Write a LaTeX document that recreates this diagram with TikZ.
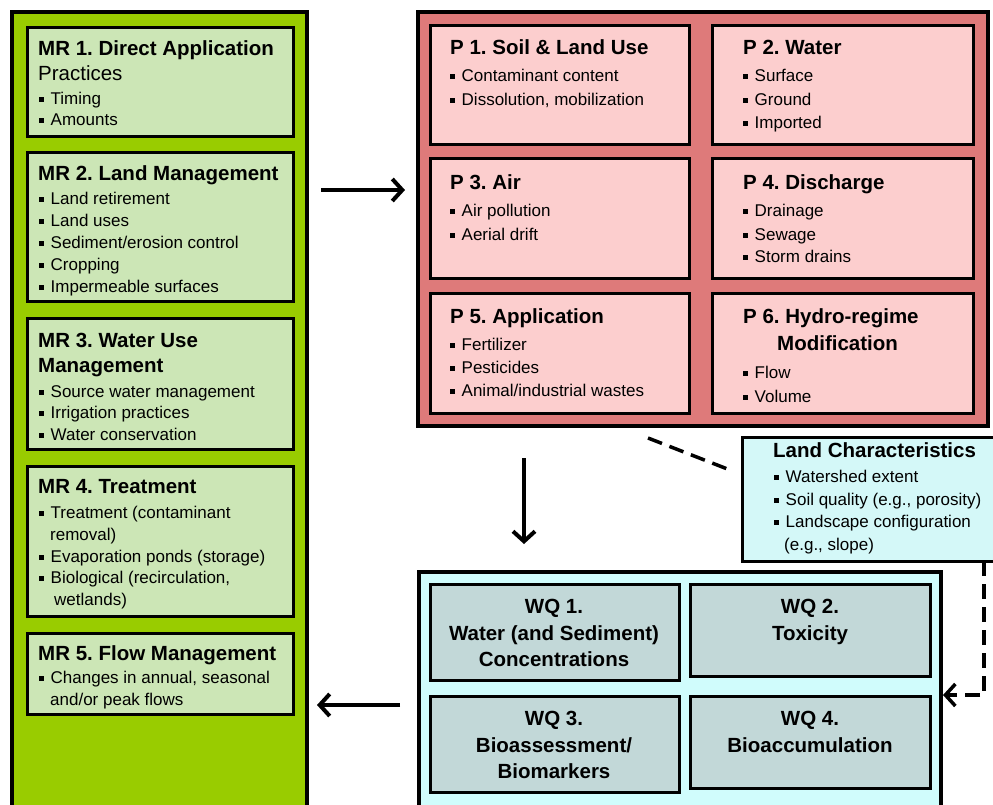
\documentclass[tikz,border=0pt]{standalone}
\usepackage{fontspec}
\setmainfont{Liberation Sans}
\usetikzlibrary{arrows.meta,fit,calc}
\frenchspacing

\definecolor{mrouter}{RGB}{153,204,0}
\definecolor{mrinner}{RGB}{204,230,182}
\definecolor{pouter}{RGB}{222,122,122}
\definecolor{pinner}{RGB}{252,206,206}
\definecolor{wqouter}{RGB}{208,252,252}
\definecolor{wqinner}{RGB}{194,216,216}
\definecolor{lcfill}{RGB}{212,248,248}

% small square bullet
\newcommand\sq{\rule[2.3pt]{4.5pt}{4.5pt}\hspace{7pt}}
% text lines placed on their baselines
\newcounter{lc}
\newcommand\Ttl[2]{\stepcounter{lc}\node[ttl] (ln\arabic{lc}) at (#1) {#2};}
\newcommand\Itm[2]{\stepcounter{lc}\node[itm] (ln\arabic{lc}) at (#1) {\sq#2};}
\newcommand\Cnt[2]{\stepcounter{lc}\node[itm] (ln\arabic{lc}) at (#1) {#2};}
\newcommand\Ctr[2]{\stepcounter{lc}\node[ctr] (ln\arabic{lc}) at (#1) {#2};}

\tikzset{
  panel/.style={draw=black, line width=4pt, inner sep=0pt, outer sep=0pt},
  card/.style={draw=black, line width=3pt, inner sep=0pt, outer sep=0pt},
  ttl/.style={anchor=base west, inner sep=0pt, font=\bfseries\fontsize{20.5}{24}\selectfont},
  ttlreg/.style={anchor=base west, inner sep=0pt, font=\fontsize{20.5}{24}\selectfont},
  itm/.style={anchor=base west, inner sep=0pt, font=\fontsize{17}{20}\selectfont},
  ctr/.style={anchor=base, inner sep=0pt, font=\bfseries\fontsize{20.5}{24}\selectfont},
  arr/.style={line width=4pt, -{Straight Barb[length=10pt,width=22pt]}},
  dashln/.style={line width=3.5pt, dash pattern=on 15pt off 8pt},
}

\begin{document}
\begin{tikzpicture}[x=1pt, y=-1pt]
\useasboundingbox (0,0) rectangle (993,804);
\fill[white] (0,0) rectangle (993,804);
\clip (0,0) rectangle (993,804);

% ---------- management responses ----------
\node[panel, fill=mrouter, fit={(12,12)(307,830)}] (mrp) {};
\node[card, fill=mrinner, fit={(27,27)(293,136)}] (mr1) {};
\node[card, fill=mrinner, fit={(27,152)(293,301)}] (mr2) {};
\node[card, fill=mrinner, fit={(27,318)(293,449)}] (mr3) {};
\node[card, fill=mrinner, fit={(27,466)(293,616)}] (mr4) {};
\node[card, fill=mrinner, fit={(27,633)(293,714)}] (mr5) {};

\Ttl{38,55}{MR 1. Direct Application}
\node[ttlreg] (practices) at (38,80) {Practices};
\Itm{39,104}{Timing}
\Itm{39,125}{Amounts}

\Ttl{38,180}{MR 2. Land Management}
\Itm{39,204}{Land retirement}
\Itm{39,226}{Land uses}
\Itm{39,248}{Sediment/erosion control}
\Itm{39,270}{Cropping}
\Itm{39,292}{Impermeable surfaces}

\Ttl{38,347}{MR 3. Water Use}
\Ttl{38,372}{Management}
\Itm{39,397}{Source water management}
\Itm{39,418}{Irrigation practices}
\Itm{39,440}{Water conservation}

\Ttl{38,493}{MR 4. Treatment}
\Itm{39,518}{Treatment (contaminant}
\Cnt{50,540}{removal)}
\Itm{39,562}{Evaporation ponds (storage)}
\Itm{39,583}{Biological (recirculation,}
\Cnt{54,605}{wetlands)}

\Ttl{38,660}{MR 5. Flow Management}
\Itm{39,683}{Changes in annual, seasonal}
\Cnt{50,705}{and/or peak flows}

% ---------- pressures ----------
\node[panel, fill=pouter, fit={(418,12)(988,426)}] (pp) {};
\node[card, fill=pinner, fit={(430,25)(689,144)}] (p1) {};
\node[card, fill=pinner, fit={(712,25)(973,144)}] (p2) {};
\node[card, fill=pinner, fit={(430,158)(689,278)}] (p3) {};
\node[card, fill=pinner, fit={(712,158)(973,278)}] (p4) {};
\node[card, fill=pinner, fit={(430,293)(689,413)}] (p5) {};
\node[card, fill=pinner, fit={(712,293)(973,413)}] (p6) {};

\Ttl{450,54}{P 1. Soil \& Land Use}
\Itm{450,81}{Contaminant content}
\Itm{450,105}{Dissolution, mobilization}

\Ttl{743,54}{P 2. Water}
\Itm{743,81}{Surface}
\Itm{743,105}{Ground}
\Itm{743,128}{Imported}

\Ttl{450,189}{P 3. Air}
\Itm{450,216}{Air pollution}
\Itm{450,240}{Aerial drift}

\Ttl{743,189}{P 4. Discharge}
\Itm{743,216}{Drainage}
\Itm{743,240}{Sewage}
\Itm{743,262}{Storm drains}

\Ttl{450,323}{P 5. Application}
\Itm{450,350}{Fertilizer}
\Itm{450,373}{Pesticides}
\Itm{450,396}{Animal/industrial wastes}

\Ttl{743,323}{P 6. Hydro-regime}
\Ttl{777,350}{Modification}
\Itm{743,378}{Flow}
\Itm{743,402}{Volume}

% ---------- land characteristics ----------
\node[card, fill=lcfill, fit={(742,437)(1005,561)}] (lc) {};
\Ttl{773,457}{Land Characteristics}
\Itm{774,482}{Watershed extent}
\Itm{774,505}{Soil quality (e.g., porosity)}
\Itm{774,527}{Landscape configuration}
\Cnt{784,550}{(e.g., slope)}

% ---------- water quality ----------
\node[panel, fill=wqouter, fit={(419,572)(941,830)}] (wq) {};
\node[card, fill=wqinner, fit={(430,584)(679,680)}] (wq1) {};
\node[card, fill=wqinner, fit={(690,584)(930,676)}] (wq2) {};
\node[card, fill=wqinner, fit={(430,696)(679,792)}] (wq3) {};
\node[card, fill=wqinner, fit={(690,696)(930,788)}] (wq4) {};

\Ctr{554,613}{WQ 1.}
\Ctr{554,640}{Water (and Sediment)}
\Ctr{554,666}{Concentrations}
\Ctr{810,613}{WQ 2.}
\Ctr{810,640}{Toxicity}
\Ctr{554,725}{WQ 3.}
\Ctr{554,752}{Bioassessment/}
\Ctr{554,778}{Biomarkers}
\Ctr{810,725}{WQ 4.}
\Ctr{810,752}{Bioaccumulation}

% ---------- connectors ----------
\coordinate (yr) at (0,190);
\coordinate (yl) at (0,705);
\coordinate (xd) at (524,0);
\coordinate (xl) at (984,0);
\coordinate (yd) at (0,695);
\coordinate (dsA) at (648,438);
\coordinate (dsB) at (730,470);

\draw[arr, shorten <=14pt, shorten >=13pt] (mrp.east |- yr) -- (pp.west |- yr);
\draw[arr, shorten <=32pt, shorten >=28pt] (pp.south -| xd) -- (wq.north -| xd);
\draw[arr, shorten <=19pt, shorten >=10pt] (wq.west |- yl) -- (mrp.east |- yl);
\draw[dashln] (dsA) -- (dsB);
\draw[dashln, -{Straight Barb[length=10pt,width=22pt]}, shorten >=2pt]
  (lc.south -| xl) |- (wq.east |- yd);
\end{tikzpicture}
\end{document}
